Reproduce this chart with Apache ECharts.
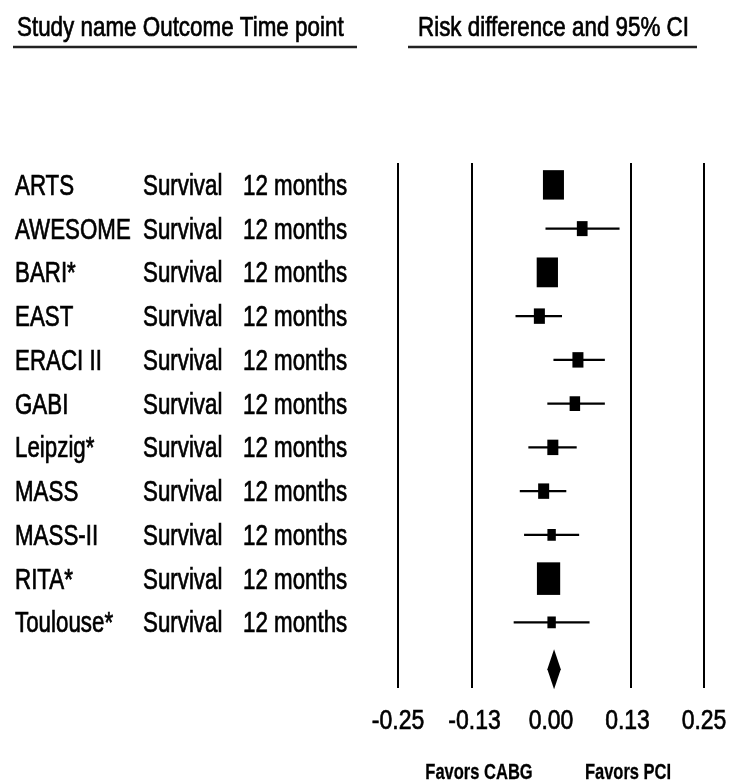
<!DOCTYPE html>
<html>
<head>
<meta charset="utf-8">
<script src="https://cdn.jsdelivr.net/npm/echarts@6/dist/echarts.min.js"></script>
<style>
html, body { margin: 0; padding: 0; background: #fff; }
#forest { width: 731px; height: 783px; }
</style>
</head>
<body>
<div id="forest"></div>
<script>
// one row per study, top to bottom
var studies = ['ARTS', 'AWESOME', 'BARI*', 'EAST', 'ERACI II', 'GABI', 'Leipzig*', 'MASS', 'MASS-II', 'RITA*', 'Toulouse*'];
var outcomes = ['Survival', 'Survival', 'Survival', 'Survival', 'Survival', 'Survival', 'Survival', 'Survival', 'Survival', 'Survival', 'Survival'];
var timepoints = ['12 months', '12 months', '12 months', '12 months', '12 months', '12 months', '12 months', '12 months', '12 months', '12 months', '12 months'];
var riskDiff = [0.004, 0.051, -0.006, -0.019, 0.044, 0.039, 0.003, -0.012, 0.001, -0.004, 0.001];
var lower = [-0.010, -0.009, -0.015, -0.058, 0.004, -0.006, -0.037, -0.051, -0.044, -0.014, -0.061];
var upper = [0.018, 0.112, 0.003, 0.018, 0.088, 0.088, 0.042, 0.025, 0.046, 0.006, 0.063];
var weights = [20, 5.2, 20.5, 5.5, 5.5, 5, 5.5, 5.5, 3.2, 24.5, 3.2];

// pooled estimate (diamond)
var pooledEst = 0.005;
var pooledLower = -0.006;
var pooledUpper = 0.016;

var tickValues = [-0.25, -0.125, 0, 0.125, 0.25];
var tickLabels = ['-0.25', '-0.13', '0.00', '0.13', '0.25'];
var refLines = [-0.25, -0.125, 0.125, 0.25];

var rows = studies.concat(['Overall']);
var FONT = "'Liberation Sans', Arial, sans-serif";

var chartDom = document.getElementById('forest');
var forestChart = echarts.init(chartDom);

// no narrow font installed, so squeeze regular text horizontally
function condensed(text, x, y, size, opts) {
  opts = opts || {};
  return {
    type: 'text',
    x: x,
    y: y,
    scaleX: opts.scaleX || 0.77,
    style: {
      x: 0,
      y: 0,
      text: text,
      fill: '#000',
      stroke: '#000',
      lineWidth: opts.stroke == null ? 0.7 : opts.stroke,
      font: (opts.weight || 'normal') + ' ' + size + 'px ' + FONT,
      textAlign: opts.align || 'left',
      textVerticalAlign: 'middle'
    }
  };
}

var option = {
  backgroundColor: '#fff',
  animation: false,
  grid: {
    left: 398,
    right: 27,
    top: 163,
    bottom: 95
  },
  xAxis: {
    type: 'value',
    min: -0.25,
    max: 0.25,
    interval: 0.125,
    axisLine: { show: false },
    axisTick: { show: false },
    splitLine: { show: false },
    axisLabel: { show: false }
  },
  yAxis: {
    type: 'category',
    data: rows,
    inverse: true,
    axisLine: { show: false },
    axisTick: { show: false },
    axisLabel: { show: false },
    splitLine: { show: false }
  },
  graphic: [
    condensed('Study name Outcome Time point', 17, 28, 28, { scaleX: 0.8 }),
    { type: 'line', shape: { x1: 13, y1: 47, x2: 357, y2: 47 }, style: { stroke: '#222', lineWidth: 2.5 } },
    condensed('Risk difference and 95% CI', 418, 28, 28, { scaleX: 0.8 }),
    { type: 'line', shape: { x1: 408, y1: 47, x2: 697, y2: 47 }, style: { stroke: '#222', lineWidth: 2.5 } },
    condensed('Favors CABG', 479, 773, 22, { weight: 'bold', scaleX: 0.75, align: 'center', stroke: 0.3 }),
    condensed('Favors PCI', 628, 773, 22, { weight: 'bold', scaleX: 0.75, align: 'center', stroke: 0.3 })
  ],
  series: [
    {
      name: 'table',
      type: 'custom',
      clip: false,
      silent: true,
      data: studies.map(function (s, i) { return [0, i]; }),
      renderItem: function (params, api) {
        var i = params.dataIndex;
        var y = api.coord([0, api.value(1)])[1] + 2;
        return {
          type: 'group',
          children: [
            condensed(studies[i], 15, y, 29),
            condensed(outcomes[i], 143, y, 29),
            condensed(timepoints[i], 243, y, 29)
          ]
        };
      }
    },
    {
      name: 'ticks',
      type: 'custom',
      clip: false,
      silent: true,
      data: tickValues.map(function (v, i) { return [v, 0]; }),
      renderItem: function (params, api) {
        var x = api.coord([api.value(0), 0])[0];
        return condensed(tickLabels[params.dataIndex], x, 721, 28, { scaleX: 0.82, align: 'center' });
      }
    },
    {
      name: 'studies',
      type: 'custom',
      silent: true,
      data: studies.map(function (s, i) {
        return [riskDiff[i], i, lower[i], upper[i], weights[i]];
      }),
      encode: { x: [0, 2, 3], y: 1 },
      renderItem: function (params, api) {
        var row = api.value(1);
        var c = api.coord([api.value(0), row]);
        var lo = api.coord([api.value(2), row]);
        var hi = api.coord([api.value(3), row]);
        var w = 4.7 * Math.sqrt(api.value(4));
        var h = w * 1.4;
        return {
          type: 'group',
          children: [
            { type: 'line', shape: { x1: lo[0], y1: c[1], x2: hi[0], y2: c[1] }, style: { stroke: '#000', lineWidth: 2.3 } },
            { type: 'rect', shape: { x: c[0] - w / 2, y: c[1] - h / 2, width: w, height: h }, style: { fill: '#000' } }
          ]
        };
      },
      markLine: {
        silent: true,
        symbol: 'none',
        label: { show: false },
        lineStyle: { color: '#000', width: 2, type: 'solid' },
        data: refLines.map(function (v) { return { xAxis: v }; })
      }
    },
    {
      name: 'pooled',
      type: 'custom',
      silent: true,
      data: [[pooledEst, studies.length, pooledLower, pooledUpper]],
      encode: { x: [0, 2, 3], y: 1 },
      renderItem: function (params, api) {
        var row = api.value(1);
        var c = api.coord([api.value(0), row]);
        var lo = api.coord([api.value(2), row]);
        var hi = api.coord([api.value(3), row]);
        var cy = c[1] + 3;
        return {
          type: 'polygon',
          shape: { points: [[lo[0], cy], [c[0], cy - 20], [hi[0], cy], [c[0], cy + 20]] },
          style: { fill: '#000' }
        };
      }
    }
  ]
};

forestChart.setOption(option);
</script>
</body>
</html>
